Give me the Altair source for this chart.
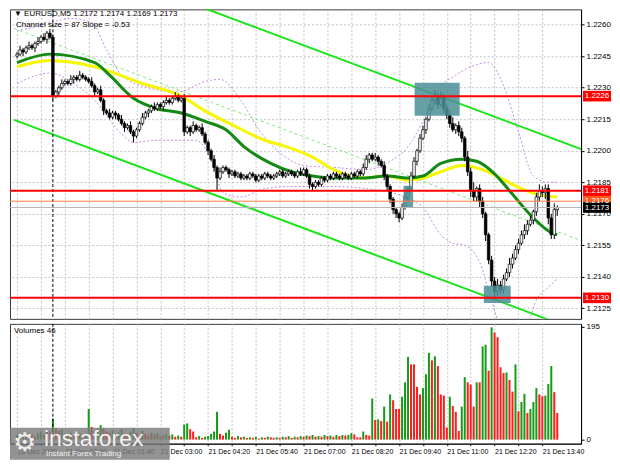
import altair as alt
import pandas as pd

# ---------------- data ----------------
first_open = 1.2245
closes = [
    1.2246, 1.2248, 1.2247, 1.2249, 1.2250, 1.2249, 1.2251, 1.2252, 1.2254, 1.2253, 1.2256, 1.2254,
    1.2226,
    1.2228, 1.2230, 1.2232,
    1.2233, 1.2232, 1.2234, 1.2235, 1.2234, 1.2236, 1.2235, 1.2234,
    1.2233, 1.2231, 1.2228, 1.2229,
    1.2224, 1.2219, 1.2218,
    1.2216, 1.2218, 1.2217, 1.2215, 1.2213,
    1.2211, 1.2212, 1.2209, 1.2207, 1.2210,
    1.2213, 1.2216, 1.2218, 1.2219, 1.2221,
    1.2220, 1.2222, 1.2221, 1.2223, 1.2224, 1.2223, 1.2225,
    1.2226, 1.2224, 1.2225,
    1.2209,
    1.2211, 1.2209, 1.2212, 1.2210, 1.2211,
    1.2208, 1.2204, 1.2200, 1.2196, 1.2192,
    1.2187,
    1.2190, 1.2192, 1.2191,
    1.2189, 1.2190, 1.2188, 1.2189, 1.2187,
    1.2188, 1.2187, 1.2189, 1.2188, 1.2186, 1.2188, 1.2187, 1.2189, 1.2188, 1.2187,
    1.2188, 1.2189, 1.2190, 1.2188, 1.2189, 1.2190, 1.2189, 1.2188, 1.2190, 1.2189,
    1.2191, 1.2188, 1.2184, 1.2183,
    1.2185, 1.2184, 1.2187, 1.2186, 1.2188,
    1.2187, 1.2189, 1.2188, 1.2187, 1.2189, 1.2188,
    1.2187, 1.2189, 1.2188, 1.2190, 1.2189, 1.2192,
    1.2196, 1.2198, 1.2196, 1.2197,
    1.2195, 1.2193,
    1.2188, 1.2183,
    1.2177, 1.2172, 1.2170,
    1.2168, 1.2173,
    1.2178, 1.2182,
    1.2188, 1.2195, 1.2200, 1.2206, 1.2210,
    1.2215, 1.2220, 1.2224, 1.2226,
    1.2222, 1.2225,
    1.2220, 1.2217, 1.2213, 1.2210, 1.2212, 1.2209,
    1.2206, 1.2197, 1.2190,
    1.2181, 1.2178, 1.2182, 1.2176,
    1.2170, 1.2160, 1.2148,
    1.2138, 1.2133,
    1.2136, 1.2134,
    1.2139, 1.2142, 1.2146, 1.2149,
    1.2153, 1.2156, 1.2160, 1.2162,
    1.2165, 1.2167, 1.2171, 1.2178,
    1.2181, 1.2180, 1.2182,
    1.2168, 1.2160,
    1.2172, 1.2173,
]
# wick lengths in pips (0.0001)
wick_up = [
    1, 2, 1, 1, 2, 1, 1, 2, 1, 2, 1, 2,
    1,
    1, 1, 2, 1, 1, 2, 1, 1, 2, 1, 1,
    1, 2, 1, 1, 2, 1, 1, 2, 1, 1, 1, 2,
    1, 1, 2, 1, 1, 1, 2, 1, 1, 1, 2, 1,
    1, 1, 2, 1, 1, 2, 1, 1, 2, 1, 1, 2,
    1, 1, 2, 1, 1, 1, 2, 1, 2, 1, 1, 1,
    1, 1, 1, 1, 1, 1, 1, 1, 1, 1, 1, 1,
    1, 1, 1, 1, 1, 1, 1, 1, 1, 1, 1, 2,
    1, 1, 1, 1, 1, 1, 1, 1, 1, 1, 1, 1,
    1, 1, 1, 1, 1, 1, 1, 1, 2, 2, 1, 1,
    2, 1, 1, 2, 1, 1, 1, 1, 1, 2, 2, 1,
    2, 2, 1, 2, 2, 1, 2, 2, 3, 2, 3, 2,
    2, 2, 3, 1, 2, 2, 1, 3, 2, 4, 1, 2,
    2, 1, 1, 2, 2, 3, 2, 2, 2, 3, 2, 2,
    2, 2, 3, 2, 2, 1, 2, 3, 2, 2, 2, 2, 3, 1,
]
wick_dn = [
    1, 1, 2, 1, 1, 1, 2, 1, 1, 1, 2, 1,
    2,
    1, 2, 1, 1, 1, 1, 2, 1, 1, 1, 1,
    1, 1, 2, 1, 1, 2, 1, 1, 1, 2, 1, 1,
    2, 1, 1, 3, 1, 1, 1, 1, 2, 1, 1, 1,
    1, 2, 1, 1, 1, 1, 1, 1, 2, 1, 2, 1,
    1, 1, 1, 1, 2, 1, 2, 6, 1, 1, 1, 2,
    1, 1, 1, 1, 1, 1, 1, 1, 1, 1, 1, 1,
    1, 1, 1, 1, 1, 1, 1, 1, 1, 1, 1, 1,
    1, 1, 2, 2, 1, 1, 1, 1, 1, 1, 1, 1,
    1, 1, 1, 1, 1, 1, 1, 1, 1, 1, 2, 1,
    1, 2, 1, 2, 2, 2, 2, 2, 2, 1, 1, 2,
    1, 1, 2, 1, 1, 2, 1, 1, 2, 2, 1, 2,
    2, 2, 1, 2, 2, 2, 2, 2, 3, 2, 2, 3,
    2, 3, 2, 3, 3, 2, 2, 2, 1, 2, 2, 1,
    2, 1, 2, 2, 1, 2, 2, 2, 2, 3, 3, 2, 2, 3,
]
volumes = [
    8, 6, 10, 7, 12, 9, 5, 11, 14, 8, 16, 12,
    36,
    20, 15, 18, 10, 8, 12, 9, 6, 11, 7, 9,
    53,
    22, 15, 18, 25, 20, 14, 12, 16, 10, 13, 18, 11, 9, 14, 20, 12, 8, 15, 10, 7, 12, 9, 11, 6, 8, 10, 7, 9, 5,
    7, 5, 26, 28, 18, 14, 4, 6, 3, 5, 6, 10, 14, 48, 10, 7, 12, 17,
    5, 3, 6, 4, 5, 3,
    4, 3, 5, 2, 4, 3, 5, 4, 3, 4,
    3, 5, 4, 6, 3, 5, 4, 6,
    5, 7, 6, 8, 5,
    6, 5, 8, 6, 7, 5,
    8, 6, 8, 7,
    8, 11, 9, 4, 4, 14, 8, 7,
    71, 34, 35, 32, 57, 31, 78, 68, 53, 53,
    74, 99, 143, 130, 130, 91, 78, 89, 113, 150,
    137, 144, 127, 78, 76, 21, 74, 58, 48, 15,
    57, 108, 99, 95, 57, 99, 99, 161, 164, 119,
    194, 185, 177, 125, 115, 116, 103, 83, 130, 49,
    65, 79, 46, 53, 65, 89, 78, 75, 76, 96,
    127, 82, 46,
]

ma_slow_bar = [0, 11, 26, 42, 55, 63, 74, 83, 90, 99, 106, 116, 124, 131, 136, 142, 149, 156, 162, 169, 175, 181]
ma_slow_val = [1.2240, 1.2243, 1.2240, 1.2232, 1.2226, 1.2219, 1.2211, 1.2205, 1.2202, 1.2197, 1.2191,
               1.2187, 1.2188, 1.2186, 1.2187, 1.2190, 1.2193, 1.2191, 1.2187, 1.2182, 1.2179, 1.2178]
ma_fast_bar = [0, 11, 26, 31, 39, 47, 55, 63, 70, 76, 85, 92, 99, 106, 116, 124, 131, 136, 142, 149,
               154, 160, 165, 173, 179, 181]
ma_fast_val = [1.2242, 1.2246, 1.2242, 1.2236, 1.2225, 1.2220, 1.2218, 1.2214, 1.2210, 1.2202, 1.2194,
               1.2190, 1.2188, 1.2187, 1.2187, 1.2188, 1.2187, 1.2188, 1.2194, 1.2196, 1.2195, 1.2189,
               1.2181, 1.2168, 1.2161, 1.2160]
band_up_bar = [0, 6, 11, 18, 25, 30, 35, 44, 54, 63, 68, 75, 81, 89, 96, 107, 117, 125, 131, 136, 141,
               147, 154, 158, 163, 168, 173, 178, 181]
band_up_val = [1.2257, 1.2259, 1.2261, 1.2263, 1.2261, 1.2248, 1.2236, 1.2230, 1.2228, 1.2233, 1.2234,
               1.2224, 1.2210, 1.2198, 1.2193, 1.2192, 1.2191, 1.2195, 1.2202, 1.2214, 1.2229, 1.2236,
               1.2241, 1.2242, 1.2231, 1.2209, 1.2188, 1.2185, 1.2185]
band_dn_bar = [0, 11, 18, 26, 35, 39, 47, 60, 65, 69, 75, 83, 92, 105, 117, 128, 136, 142, 146, 150,
               155, 159, 162, 170, 174, 178, 181]
band_dn_val = [1.2232, 1.2237, 1.2233, 1.2224, 1.2208, 1.2204, 1.2205, 1.2205, 1.2196, 1.2180, 1.2178,
               1.2182, 1.2183, 1.2183, 1.2182, 1.2179, 1.2173, 1.2160, 1.2156, 1.2155, 1.2147, 1.2129,
               1.2117, 1.2114, 1.2129, 1.2135, 1.2139]

chan_bar = [-1, 189]
chan_upper = [1.23017, 1.22008]
chan_mid = [1.22582, 1.21573]
chan_lower = [1.22147, 1.21138]

red_levels = [1.2226, 1.2181, 1.2130]
orange_level = 1.2176
last_price = 1.2173

zone_bar0 = [133.2, 129.5, 156.4]
zone_bar1 = [148.3, 132.7, 165.4]
zone_lo = [1.22167, 1.21729, 1.21276]
zone_hi = [1.22324, 1.21833, 1.21357]

price_ticks = [1.2125, 1.2140, 1.2155, 1.2170, 1.2185, 1.2200, 1.2215, 1.2230, 1.2245, 1.2260]
vol_ticks = [0, 195]
time_tick_bars = list(range(0, 184, 8))
time_labels = ['18 Dec 2020', '21 Dec 00:20', '21 Dec 01:40', '21 Dec 03:00', '21 Dec 04:20',
               '21 Dec 05:40', '21 Dec 07:00', '21 Dec 08:20', '21 Dec 09:40', '21 Dec 11:00',
               '21 Dec 12:20', '21 Dec 13:40']
separator_bar = 12
header_1 = "\u25bc EURUSD,M5  1.2172 1.2174 1.2169 1.2173"
header_2 = "Channel size = 87  Slope = -0.53"
vol_title = "Volumes 46"

# ---------------- tables ----------------
opens = [first_open] + closes[:-1]
rows = []
for i, (o, c) in enumerate(zip(opens, closes)):
    rows.append(dict(bar=i, open=o, close=c,
                     high=max(o, c) + wick_up[i] * 0.0001,
                     low=min(o, c) - wick_dn[i] * 0.0001,
                     body='#ffffff' if c > o else '#000000'))
cdf = pd.DataFrame(rows)

vrows = []
for i, v in enumerate(volumes):
    rising = (i == 0 or v > volumes[i - 1])
    vrows.append(dict(bar=i, vol=v, vcol='#179a17' if rising else '#ff1c1c'))
vdf = pd.DataFrame(vrows)

ma_slow = pd.DataFrame(dict(bar=ma_slow_bar, val=ma_slow_val))
ma_fast = pd.DataFrame(dict(bar=ma_fast_bar, val=ma_fast_val))
bands = pd.concat([pd.DataFrame(dict(bar=band_up_bar, val=band_up_val, s='up')),
                   pd.DataFrame(dict(bar=band_dn_bar, val=band_dn_val, s='dn'))])
chan_solid = pd.concat([pd.DataFrame(dict(bar=chan_bar, val=chan_upper, s='u')),
                        pd.DataFrame(dict(bar=chan_bar, val=chan_lower, s='l'))])
chan_dash = pd.DataFrame(dict(bar=chan_bar, val=chan_mid))
zones = pd.DataFrame(dict(b0=zone_bar0, b1=zone_bar1, lo=zone_lo, hi=zone_hi))
reds = pd.DataFrame(dict(val=red_levels))
tags = pd.DataFrame(dict(val=red_levels + [orange_level, last_price],
                         col=['#ff0000', '#ff0000', '#ff0000', '#ff5a1f', '#000000']))
tags['label'] = tags['val'].map(lambda p: f"{p:.4f}")

# ---------------- scales / axes ----------------
W, H1, H2 = 572, 310, 120
FONT = 'Liberation Sans'
xs = alt.Scale(domain=[-0.7, 187.3], nice=False, zero=False)
ys = alt.Scale(domain=[1.2120, 1.22673], nice=False, zero=False)
vs = alt.Scale(domain=[-7, 200], nice=False, zero=False)
GRID = '#c2c2c2'

x_axis_main = alt.Axis(values=time_tick_bars, labels=False, ticks=False, domain=False, grid=True,
                       gridColor=GRID, gridDash=[2, 2], title=None)
y_axis_main = alt.Axis(orient='right', values=price_ticks, format='.4f', grid=True, gridColor=GRID,
                       gridDash=[2, 2], tickSize=3, tickColor='black', domainColor='black',
                       labelFontSize=8, labelPadding=2, labelFont=FONT, title=None)


def X(field='bar'):
    return alt.X(f'{field}:Q', scale=xs, axis=x_axis_main)


def Y(field):
    return alt.Y(f'{field}:Q', scale=ys, axis=y_axis_main)


band_layer = alt.Chart(bands).mark_line(color='#c28de6', strokeDash=[2, 2], strokeWidth=1,
                                         interpolate='monotone', clip=True).encode(
    x=X(), y=Y('val'), detail='s:N')
chan_layer = alt.Chart(chan_solid).mark_line(color='#19e619', strokeWidth=2, clip=True).encode(
    x=X(), y=Y('val'), detail='s:N')
chan_mid_layer = alt.Chart(chan_dash).mark_line(color='#7ee87e', strokeDash=[3, 3], strokeWidth=1,
                                                clip=True).encode(x=X(), y=Y('val'))
slow_layer = alt.Chart(ma_slow).mark_line(color='#f7f700', strokeWidth=3, interpolate='monotone',
                                          clip=True).encode(x=X(), y=Y('val'))
fast_layer = alt.Chart(ma_fast).mark_line(color='#138a13', strokeWidth=3, interpolate='monotone',
                                          clip=True).encode(x=X(), y=Y('val'))
sep_main = alt.Chart(pd.DataFrame(dict(bar=[separator_bar]))).mark_rule(
    color='black', strokeDash=[3, 2], strokeWidth=1).encode(x=X())
wicks = alt.Chart(cdf).mark_rule(color='black', strokeWidth=1, clip=True).encode(
    x=X(), y=Y('low'), y2='high')
bodies = alt.Chart(cdf).mark_bar(size=2.6, stroke='black', strokeWidth=0.7, clip=True).encode(
    x=X(), y=Y('open'), y2='close', fill=alt.Fill('body:N', scale=None))
zone_layer = alt.Chart(zones).mark_rect(color='#4b8e97', opacity=0.85, clip=True).encode(
    x=X('b0'), x2='b1', y=Y('lo'), y2='hi')
gray_line = alt.Chart(pd.DataFrame(dict(val=[last_price]))).mark_rule(
    color='#b8b8b8', strokeWidth=1).encode(y=Y('val'))
orange_line = alt.Chart(pd.DataFrame(dict(val=[orange_level]))).mark_rule(
    color='#ff8040', strokeWidth=1).encode(y=Y('val'))
red_lines = alt.Chart(reds).mark_rule(color='#ff0000', strokeWidth=2).encode(y=Y('val'))
tag_box = alt.Chart(tags).mark_point(shape='M-1,-0.38L1,-0.38L1,0.38L-1,0.38Z', filled=True,
                                     size=784, opacity=1, strokeWidth=0).encode(
    x=alt.value(W + 16), y=Y('val'), fill=alt.Fill('col:N', scale=None))
tag_text = alt.Chart(tags).mark_text(color='white', fontSize=8, font=FONT, align='center',
                                     baseline='middle').encode(
    x=alt.value(W + 16), y=Y('val'), text='label:N')
head1 = alt.Chart(pd.DataFrame(dict(t=[header_1]))).mark_text(
    align='left', baseline='top', fontSize=8, font=FONT, color='black').encode(
    x=alt.value(4), y=alt.value(1), text='t:N')
head2 = alt.Chart(pd.DataFrame(dict(t=[header_2]))).mark_text(
    align='left', baseline='top', fontSize=8, font=FONT, color='black').encode(
    x=alt.value(6), y=alt.value(12), text='t:N')

main = alt.layer(band_layer, chan_layer, chan_mid_layer, slow_layer, fast_layer, sep_main,
                 wicks, bodies, zone_layer, gray_line, orange_line, red_lines, tag_box, tag_text,
                 head1, head2).properties(width=W, height=H1)

# ---------------- volume panel ----------------
arr = "[" + ",".join(f"'{s}'" for s in time_labels) + "]"
x_axis_vol = alt.Axis(values=time_tick_bars, grid=True, gridColor=GRID, gridDash=[2, 2],
                      labelExpr=f"datum.value % 16 == 0 ? {arr}[datum.value / 16] : ''",
                      labelAlign='left', labelPadding=2, tickSize=2, tickColor='black',
                      domainColor='black', labelFontSize=7, labelFont=FONT,
                      labelOverlap=False, labelBound=False, labelFlush=False, title=None)
y_axis_vol = alt.Axis(orient='right', values=vol_ticks, grid=False, tickSize=3, tickColor='black',
                      domainColor='black', labelFontSize=8, labelFont=FONT, labelPadding=2,
                      title=None)

vol_bars = alt.Chart(vdf).mark_bar(size=2).encode(
    x=alt.X('bar:Q', scale=xs, axis=x_axis_vol),
    y=alt.Y('vol:Q', scale=vs, axis=y_axis_vol),
    fill=alt.Fill('vcol:N', scale=None))
sep_vol = alt.Chart(pd.DataFrame(dict(bar=[separator_bar]))).mark_rule(
    color='black', strokeDash=[3, 2], strokeWidth=1).encode(
    x=alt.X('bar:Q', scale=xs, axis=x_axis_vol))
vol_txt = alt.Chart(pd.DataFrame(dict(t=[vol_title]))).mark_text(
    align='left', baseline='top', fontSize=8, font=FONT, color='black').encode(
    x=alt.value(4), y=alt.value(3), text='t:N')
logo_box = alt.Chart(pd.DataFrame(dict(a=[0]))).mark_rect(color='#7b7b7b', opacity=0.82).encode(
    x=alt.value(0), x2=alt.value(160), y=alt.value(104), y2=alt.value(136))
logo_gear = alt.Chart(pd.DataFrame(dict(t=['\u2699']))).mark_text(
    align='left', baseline='middle', fontSize=26, font='DejaVu Sans', color='#eeeeee').encode(
    x=alt.value(3), y=alt.value(119), text='t:N')
logo_word = alt.Chart(pd.DataFrame(dict(t=['instaforex']))).mark_text(
    align='left', baseline='middle', fontSize=23, font=FONT, color='#f2f2f2').encode(
    x=alt.value(34), y=alt.value(115), text='t:N')
logo_tag = alt.Chart(pd.DataFrame(dict(t=['Instant Forex Trading']))).mark_text(
    align='left', baseline='middle', fontSize=8, font=FONT, color='#f2f2f2').encode(
    x=alt.value(36), y=alt.value(130), text='t:N')

vol = alt.layer(vol_bars, sep_vol, vol_txt, logo_box, logo_gear, logo_word, logo_tag).properties(
    width=W, height=H2)

chart = alt.vconcat(main, vol, spacing=2).properties(
    padding={"left": 0, "top": 0, "right": 0, "bottom": 0}, background='white'
).configure_view(stroke='#3a3a3a', strokeWidth=1).configure_axis(labelColor='black')

chart.save("out.html", embed_options={"renderer": "svg", "actions": False})
